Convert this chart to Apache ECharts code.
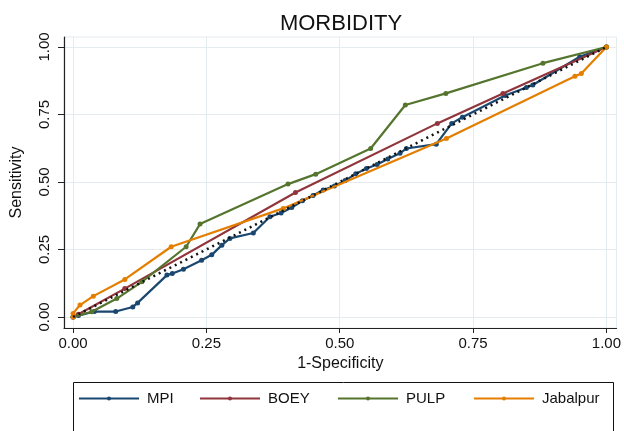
<!DOCTYPE html>
<html>
<head>
<meta charset="utf-8">
<script src="https://cdn.jsdelivr.net/npm/echarts@6/dist/echarts.min.js"></script>
<style>html,body{margin:0;padding:0;background:#fff}#c{width:624px;height:431px}</style>
</head>
<body>
<div id="c"></div>
<script>
const seriesNames = ['MPI', 'BOEY', 'PULP', 'Jabalpur'];
const tickValues = [0, 0.25, 0.5, 0.75, 1];
const tickLabels = ['0.00', '0.25', '0.50', '0.75', '1.00'];

const mpi = [[0,0],[0.01,0.005],[0.04,0.02],[0.08,0.02],[0.112,0.037],[0.121,0.052],[0.176,0.155],[0.186,0.161],[0.207,0.177],[0.241,0.21],[0.26,0.23],[0.279,0.266],[0.294,0.291],[0.338,0.311],[0.369,0.371],[0.39,0.385],[0.41,0.405],[0.43,0.43],[0.45,0.45],[0.469,0.47],[0.49,0.485],[0.51,0.505],[0.53,0.53],[0.55,0.55],[0.57,0.565],[0.59,0.585],[0.613,0.606],[0.625,0.624],[0.681,0.64],[0.71,0.717],[0.73,0.74],[0.81,0.82],[0.85,0.85],[0.862,0.859],[0.95,0.964],[1,1]];
const boey = [[0,0],[0.01,0.01],[0.097,0.105],[0.417,0.461],[0.683,0.717],[0.806,0.828],[1,1]];
const pulp = [[0,0],[0.035,0.019],[0.082,0.068],[0.129,0.13],[0.212,0.26],[0.238,0.344],[0.403,0.492],[0.455,0.529],[0.558,0.624],[0.623,0.785],[0.699,0.828],[0.881,0.94],[1,1]];
const jabalpur = [[0,0],[0,0.013],[0.013,0.044],[0.038,0.077],[0.097,0.139],[0.184,0.26],[0.394,0.402],[0.70,0.661],[0.941,0.892],[0.953,0.902],[1,1]];
const reference = [[0,0],[1,1]];

const colors = ['#1a476f', '#90353b', '#55752f', '#e37e00'];
const dataSets = [mpi, boey, pulp, jabalpur];
const FONT = 'Liberation Sans, Arial, sans-serif';

const chart = echarts.init(document.getElementById('c'));

const fmt = v => { const i = tickValues.indexOf(Math.round(v * 100) / 100); return i >= 0 ? tickLabels[i] : ''; };

const legendLefts = [78, 199, 337, 473];

const option = {
  animation: false,
  backgroundColor: '#fff',
  title: {
    text: 'MORBIDITY', left: 336, top: 8, textAlign: 'center',
    textStyle: { fontFamily: FONT, fontSize: 22, fontWeight: 'normal', color: '#111' }
  },
  grid: { left: 64, right: 7, top: 37, bottom: 103, containLabel: false,
          show: true, borderColor: '#e4ecef', borderWidth: 1, backgroundColor: 'transparent' },
  xAxis: {
    type: 'value', min: -0.017, max: 1.019,
    name: '1-Specificity', nameLocation: 'middle', nameGap: 18,
    nameTextStyle: { fontFamily: FONT, fontSize: 16, color: '#111' },
    axisLine: { show: true, onZero: false, lineStyle: { color: '#222', width: 1.2 } },
    axisTick: { show: true, customValues: tickValues, length: 5, lineStyle: { color: '#222' } },
    axisLabel: { customValues: tickValues, formatter: fmt, fontFamily: FONT, fontSize: 15, color: '#111', margin: 8 },
    splitLine: { show: true, lineStyle: { color: '#e4ecef', width: 1 } }
  },
  yAxis: {
    type: 'value', min: -0.041, max: 1.037,
    name: 'Sensitivity', nameLocation: 'middle', nameGap: 39,
    nameTextStyle: { fontFamily: FONT, fontSize: 16, color: '#111' },
    axisLine: { show: true, onZero: false, lineStyle: { color: '#222', width: 1.2 } },
    axisTick: { show: true, customValues: tickValues, length: 6, lineStyle: { color: '#222' } },
    axisLabel: { customValues: tickValues, formatter: fmt, rotate: 90, fontFamily: FONT, fontSize: 15, color: '#111', margin: 12 },
    splitLine: { show: true, lineStyle: { color: '#e4ecef', width: 1 } }
  },
  legend: seriesNames.map((n, i) => ({
    data: [n], left: legendLefts[i], top: 391, padding: 0, itemWidth: 60, itemHeight: 5, itemGap: 0,
    textStyle: { fontFamily: FONT, fontSize: 15, color: '#111', padding: [0, 0, 0, 3] }
  })),
  graphic: [{
    type: 'rect', left: 71, top: 380, shape: { width: 540, height: 80 },
    style: { fill: 'none', stroke: '#111', lineWidth: 1 }, silent: true
  }],
  series: seriesNames.map((n, i) => ({
    name: n, type: 'line', data: dataSets[i],
    symbol: 'circle', symbolSize: 5, showSymbol: true,
    lineStyle: { color: colors[i], width: 2.2 },
    itemStyle: { color: colors[i] }, z: 2 + i
  })).concat([{
    name: 'ref', type: 'line', data: reference, symbol: 'none',
    lineStyle: { color: '#111', width: 2.5, type: [2, 4] }, z: 10, silent: true
  }])
};
chart.setOption(option);
</script>
</body>
</html>
